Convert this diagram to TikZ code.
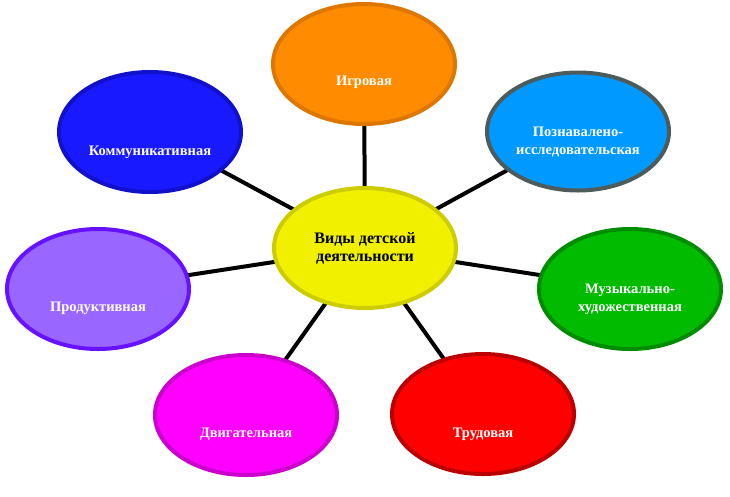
\documentclass[tikz,border=0pt]{standalone}
\usepackage{fontspec}
\setmainfont{Liberation Serif}
\usetikzlibrary{shapes.geometric,backgrounds}
\definecolor{cfill}{RGB}{240,240,0}\definecolor{cdraw}{RGB}{204,204,0}
\definecolor{ofill}{RGB}{255,140,0}\definecolor{odraw}{RGB}{221,119,0}
\definecolor{bfill}{RGB}{0,153,255}\definecolor{bdraw}{RGB}{77,91,91}
\definecolor{gfill}{RGB}{0,187,0}\definecolor{gdraw}{RGB}{0,140,0}
\definecolor{rfill}{RGB}{255,0,0}\definecolor{rdraw}{RGB}{187,0,0}
\definecolor{mfill}{RGB}{255,0,255}\definecolor{mdraw}{RGB}{204,0,204}
\definecolor{pfill}{RGB}{153,102,255}\definecolor{pdraw}{RGB}{102,17,255}
\definecolor{kfill}{RGB}{25,25,255}\definecolor{kdraw}{RGB}{17,17,204}
\tikzset{
  blob/.style={ellipse, line width=4pt, minimum width=182pt, minimum height=120pt, inner sep=0pt},
  lbl/.style={font=\fontsize{14.5}{18}\selectfont\bfseries, text=white, align=center, inner sep=0pt},
  clbl/.style={font=\fontsize{16}{18}\selectfont\bfseries, text=black, align=center, inner sep=0pt},
  link/.style={line width=4pt, black}
}
\begin{document}
\begin{tikzpicture}[x=1pt,y=-1pt]
\useasboundingbox (0,0) rectangle (730,496);
\node[blob, fill=cfill, draw=cdraw] (c) at (365,248) {};
\node[blob, fill=ofill, draw=odraw] (igr) at (364,64) {};
\node[blob, fill=bfill, draw=bdraw, minimum height=118pt] (poz) at (578,131.5) {};
\node[blob, fill=gfill, draw=gdraw] (muz) at (630,289) {};
\node[blob, fill=rfill, draw=rdraw] (trud) at (483,414) {};
\node[blob, fill=mfill, draw=mdraw] (dvig) at (246,415) {};
\node[blob, fill=pfill, draw=pdraw] (prod) at (98,289) {};
\node[blob, fill=kfill, draw=kdraw] (kom) at (150,132) {};
\begin{scope}[on background layer]
\foreach \n in {igr,poz,muz,trud,dvig,prod,kom} \draw[link] (c.center) -- (\n.center);
\end{scope}
\node[clbl] (tc) at (365,248) {Виды детской\\деятельности};
\node[lbl] (tigr) at (364,82) {Игровая};
\node[lbl] (tpoz) at (578,142) {Познавалено-\\исследовательская};
\node[lbl] (tmuz) at (630,299) {Музыкально-\\художественная};
\node[lbl] (ttrud) at (483,434) {Трудовая};
\node[lbl] (tdvig) at (246,434) {Двигательная};
\node[lbl] (tprod) at (98,308) {Продуктивная};
\node[lbl] (tkom) at (150,152) {Коммуникативная};
\end{tikzpicture}
\end{document}
